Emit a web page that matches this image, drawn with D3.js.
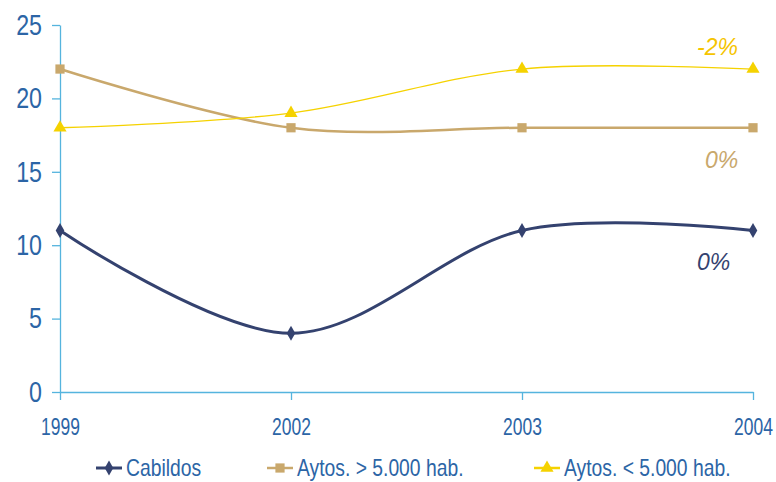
<!DOCTYPE html>
<html>
<head>
<meta charset="utf-8">
<script src="https://d3js.org/d3.v7.min.js"></script>
<style>
  body { margin: 0; background: #fff; }
  text { font-family: "Liberation Sans", Arial, sans-serif; }
</style>
</head>
<body>
<script>
// datos
var years = ['1999', '2002', '2003', '2004'];
var cabildos = [11, 4, 11, 11];
var aytosMas = [22, 18, 18, 18];
var aytosMenos = [18, 19, 22, 22];
var yTicks = [0, 5, 10, 15, 20, 25];
var endLabels = ['0%', '0%', '-2%'];
var seriesNames = ['Cabildos', 'Aytos. > 5.000 hab.', 'Aytos. < 5.000 hab.'];

var svgWidth = 776, svgHeight = 482;
var mLeft = 60, mRight = 753, mTop = 25, mBottom = 392;

var series = [
  { name: seriesNames[0], values: cabildos, color: '#34426f', lw: 3, sym: d3.symbolDiamond, size: 64, label: endLabels[0], lx: 697, ly: 270 },
  { name: seriesNames[1], values: aytosMas, color: '#c9a86c', lw: 2.5, sym: d3.symbolSquare, size: 85, label: endLabels[1], lx: 705, ly: 168 },
  { name: seriesNames[2], values: aytosMenos, color: '#f5d200', lw: 1.3, sym: d3.symbolTriangle, size: 75, label: endLabels[2], lx: 697, ly: 55, lcolor: '#f5c400' }
];

var svg = d3.select('body').append('svg')
  .attr('width', svgWidth).attr('height', svgHeight);

var x = d3.scalePoint().domain(years).range([mLeft, mRight]);
var y = d3.scaleLinear().domain([0, 25]).range([mBottom, mTop]);

var axisColor = '#55b4de', labelColor = '#2c65a6';

// eje Y
var yAxis = svg.append('g')
  .attr('transform', 'translate(' + mLeft + ',0)')
  .call(d3.axisLeft(y).tickValues(yTicks).tickSize(8).tickSizeOuter(0).tickPadding(0));
yAxis.select('.domain').attr('stroke', axisColor).attr('stroke-width', 1.3);
yAxis.selectAll('line').attr('stroke', axisColor).attr('stroke-width', 1.3);
yAxis.selectAll('text')
  .attr('fill', labelColor).attr('font-size', 29)
  .attr('x', 0).attr('dy', '0.32em')
  .attr('transform', 'translate(-18,0) scale(0.8,1)');

// eje X
var xAxis = svg.append('g')
  .attr('transform', 'translate(0,' + mBottom + ')')
  .call(d3.axisBottom(x).tickSize(8).tickSizeOuter(0).tickPadding(0));
xAxis.select('.domain').attr('stroke', axisColor).attr('stroke-width', 1.3);
xAxis.selectAll('line').attr('stroke', axisColor).attr('stroke-width', 1.3);
xAxis.selectAll('text')
  .attr('fill', labelColor).attr('font-size', 23)
  .attr('y', 0).attr('dy', 0)
  .attr('transform', 'translate(0,43) scale(0.76,1)');

var line = d3.line()
  .x(function(d, i) { return x(years[i]); })
  .y(function(d) { return y(d); })
  .curve(d3.curveCardinal.tension(0));

// series
series.forEach(function(s) {
  svg.append('path')
    .datum(s.values)
    .attr('d', line)
    .attr('fill', 'none')
    .attr('stroke', s.color)
    .attr('stroke-width', s.lw);

  svg.selectAll(null)
    .data(s.values)
    .enter()
    .append('path')
    .attr('d', d3.symbol().type(s.sym).size(s.size))
    .attr('transform', function(d, i) {
      return 'translate(' + x(years[i]) + ',' + y(d) + ')';
    })
    .attr('fill', s.color);

  svg.append('text')
    .attr('x', s.lx).attr('y', s.ly)
    .attr('font-style', 'italic')
    .attr('font-size', 23)
    .attr('fill', s.lcolor || s.color)
    .text(s.label);
});

// leyenda
var legendX = [96, 267, 534];
var legend = svg.selectAll('.legend')
  .data(series)
  .enter()
  .append('g')
  .attr('transform', function(d, i) { return 'translate(' + legendX[i] + ',468)'; });

legend.append('line')
  .attr('x1', 0).attr('x2', 26)
  .attr('stroke', function(d) { return d.color; })
  .attr('stroke-width', function(d) { return Math.max(d.lw, 2.5); });
legend.append('path')
  .attr('transform', 'translate(13,0)')
  .attr('d', function(d) { return d3.symbol().type(d.sym).size(d.size)(); })
  .attr('fill', function(d) { return d.color; });
legend.append('text')
  .attr('transform', 'translate(30,8) scale(0.84,1)')
  .attr('font-size', 23)
  .attr('fill', labelColor)
  .text(function(d) { return d.name; });
</script>
</body>
</html>
